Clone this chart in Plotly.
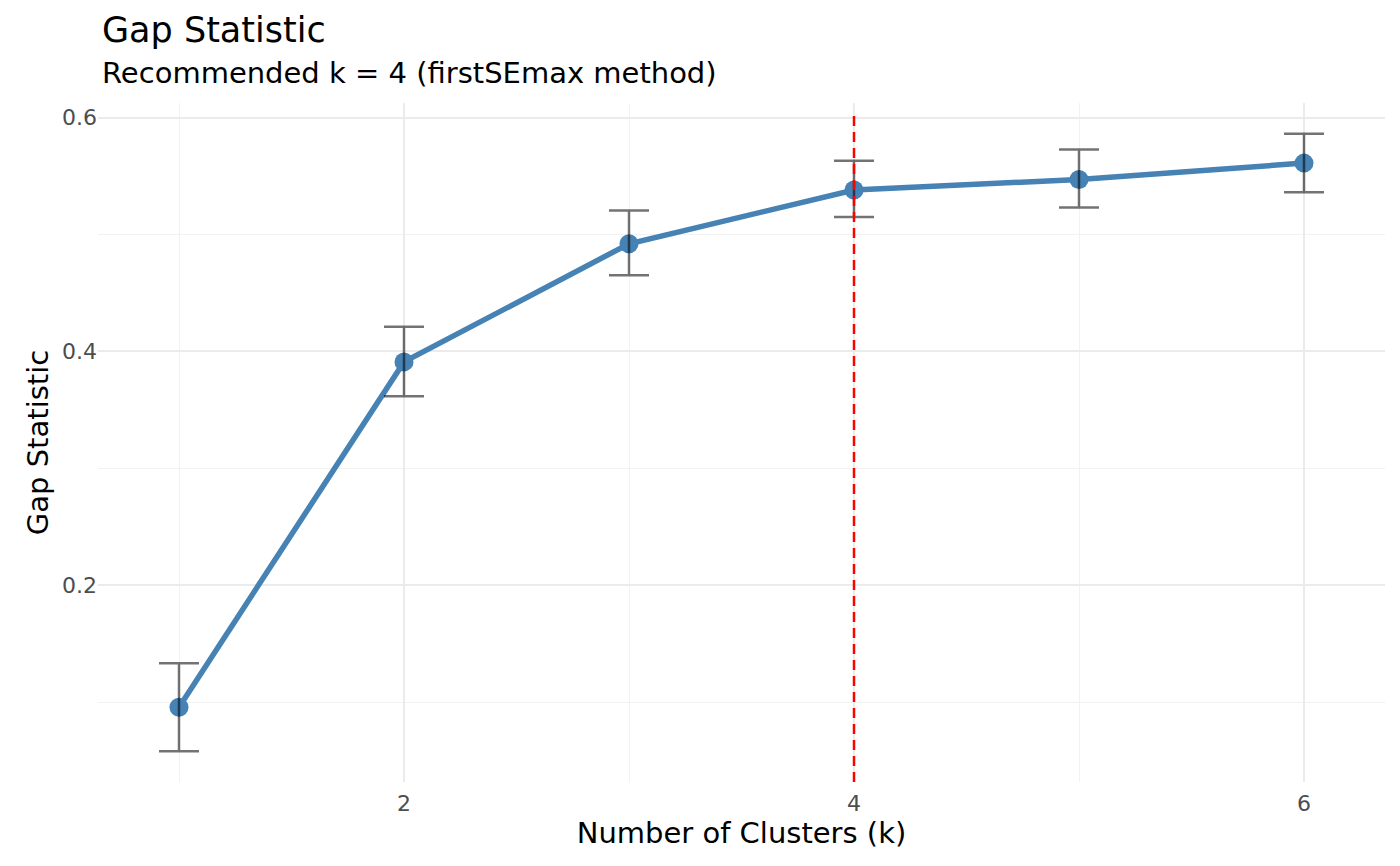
import plotly.graph_objects as go

# Gap statistic per number of clusters
k_values = [1, 2, 3, 4, 5, 6]
gap_values = [0.0957, 0.391, 0.492, 0.538, 0.547, 0.561]
se_upper = [0.1333, 0.421, 0.5205, 0.563, 0.5726, 0.586]
se_lower = [0.0581, 0.3615, 0.465, 0.515, 0.523, 0.536]
recommended_k = 4

title_text = 'Gap Statistic'
subtitle_text = 'Recommended k = 4 (firstSEmax method)'

err_plus = [u - g for u, g in zip(se_upper, gap_values)]
err_minus = [g - l for g, l in zip(gap_values, se_lower)]

fig = go.Figure()

# Line and points
fig.add_trace(go.Scatter(x=k_values, y=gap_values, mode='lines+markers',
                         line=dict(color='#4682B4', width=5.5),
                         marker=dict(color='#4682B4', size=19),
                         showlegend=False, hoverinfo='skip'))

# Error bars drawn on top of the points
fig.add_trace(go.Scatter(x=k_values, y=gap_values, mode='markers',
                         marker=dict(size=0.1, opacity=0),
                         error_y=dict(type='data', symmetric=False,
                                      array=err_plus, arrayminus=err_minus,
                                      color='rgba(0,0,0,0.55)', thickness=2.5,
                                      width=20),
                         showlegend=False))

# Recommended k marker line
fig.add_shape(type='line', x0=recommended_k, x1=recommended_k, xref='x',
              y0=0, y1=0.988, yref='y domain',
              line=dict(color='#FF0000', width=2.5, dash='10px,6px'), layer='above')

# Title and subtitle (page has an 8px body margin, so coords are shifted)
fig.add_annotation(text=title_text, xref='paper', yref='paper',
                   x=0.0016, y=1.107, xanchor='left', yanchor='middle',
                   showarrow=False, font=dict(size=35, color='black'))
fig.add_annotation(text=subtitle_text, xref='paper', yref='paper',
                   x=0.0016, y=1.044, xanchor='left', yanchor='middle',
                   showarrow=False, font=dict(size=29, color='black'))

fig.update_layout(
    width=1384, height=850,
    paper_bgcolor='white', plot_bgcolor='white',
    font=dict(family='DejaVu Sans', color='black'),
    margin=dict(l=90, r=7, t=95, b=76),
    xaxis=dict(title=dict(text='Number of Clusters (k)', font=dict(size=29), standoff=6),
               range=[0.64, 6.36], tick0=0, dtick=2,
               showgrid=True, gridcolor='#EBEBEB', gridwidth=2,
               minor=dict(dtick=1, showgrid=True, gridcolor='#F2F2F2', gridwidth=1),
               zeroline=False, showline=False, ticks='', ticklabelstandoff=6,
               tickfont=dict(size=22, color='#4D4D4D')),
    yaxis=dict(title=dict(text='Gap Statistic', font=dict(size=29), standoff=4),
               range=[0.0317, 0.6124], tick0=0, dtick=0.2, tickformat='.1f',
               showgrid=True, gridcolor='#EBEBEB', gridwidth=2,
               minor=dict(dtick=0.1, showgrid=True, gridcolor='#F2F2F2', gridwidth=1),
               zeroline=False, showline=False, ticks='',
               tickfont=dict(size=22, color='#4D4D4D')),
)

fig.write_html("out.html")
